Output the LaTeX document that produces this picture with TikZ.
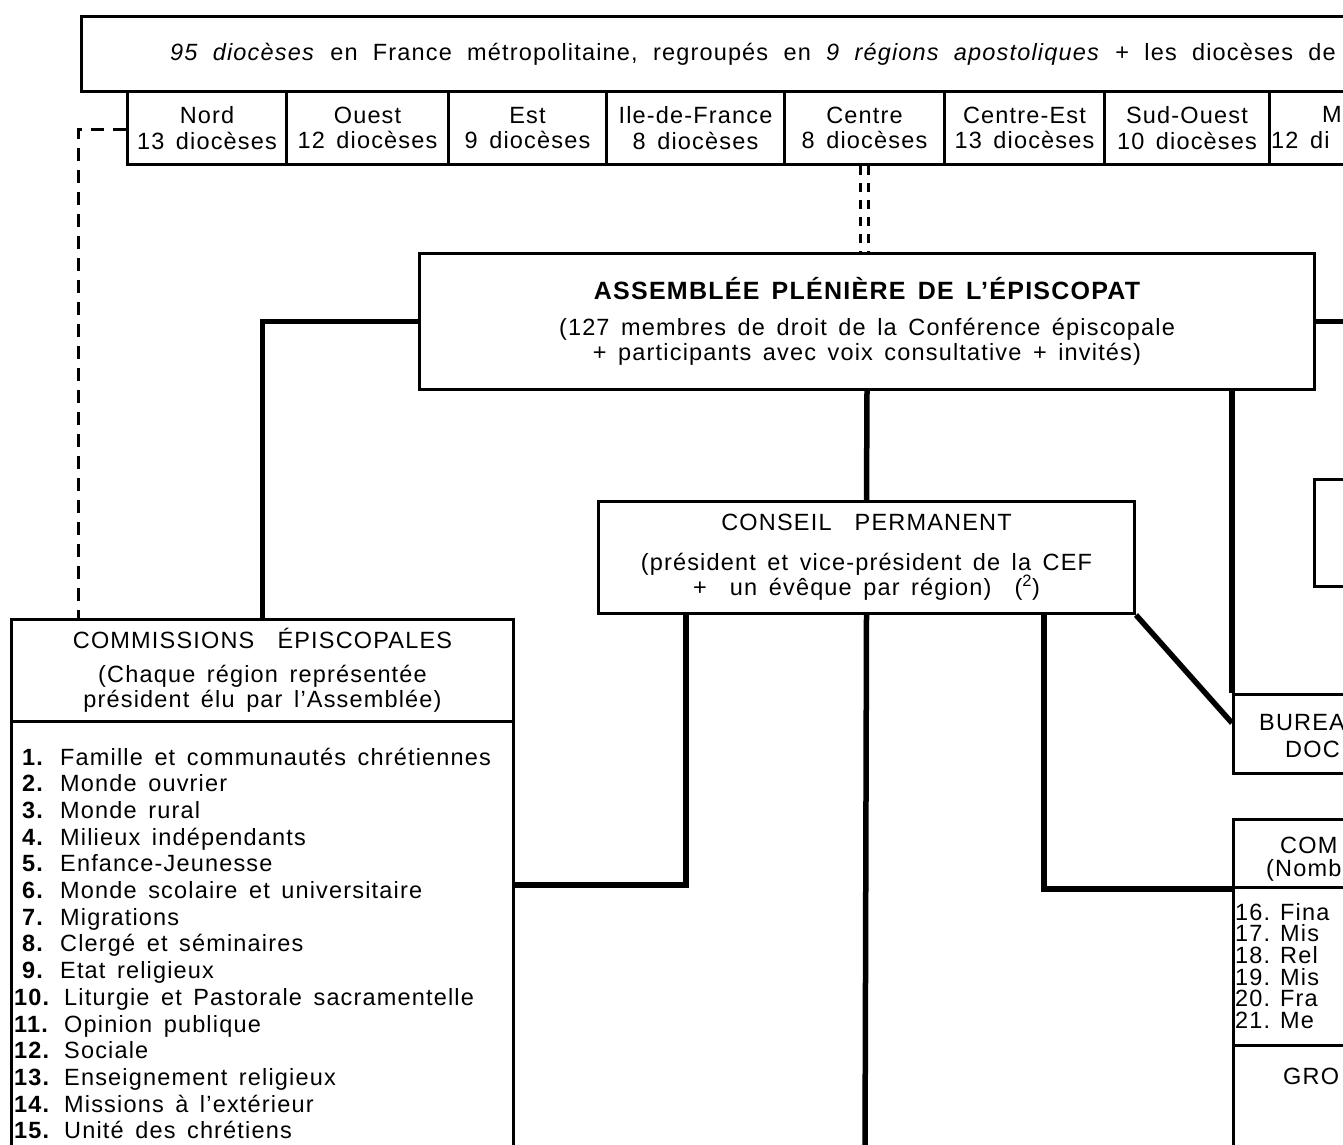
\documentclass[tikz,border=0pt]{standalone}
\usepackage{fontspec}
\setmainfont{Liberation Sans}[LetterSpace=5,WordSpace=1.5]
\usetikzlibrary{calc}

\tikzset{
  box/.style={draw,line width=3pt,rectangle,inner sep=0pt,anchor=north west,align=center},
  link/.style={line width=5.5pt},
  dashline/.style={line width=3pt,dash pattern=on 13pt off 9pt},
  lbl/.style={anchor=base west,inner sep=0pt},
}

\begin{document}
\begin{tikzpicture}[x=1pt,y=-1pt,font=\fontsize{23.5}{25.5}\selectfont]
	\useasboundingbox (0,0) rectangle (1343,1145);
	\clip (0,0) rectangle (1343,1145);
	% dioceses and regions
	\node[box,minimum width=1400pt,minimum height=75pt] (dioc) at (80,15) {};
	\node[lbl] (diocTxt) at (170,61) {\spaceskip=15.3pt\relax\textit{95 diocèses} en France métropolitaine, regroupés en \textit{9 régions apostoliques} + les diocèses de};
	\foreach \x/\w/\name/\n [count=\i] in {126/159/Nord/13, 285/162/Ouest/12, 447/158/Est/9, 605/178/Ile-de-France/8, 783/160/Centre/8, 943/160/Centre-Est/13, 1103/165/Sud-Ouest/10}
		\node[box,minimum width=\w pt,minimum height=73pt] (r\i) at (\x,90) {\name\\\n~diocèses};
	\node[box,minimum width=200pt,minimum height=73pt] (r8) at (1268,90) {};
	\node[lbl] (r8a) at (1322,123) {M};
	\node[lbl] (r8b) at (1271,148) {12 di};
	% assemblee and conseil
	\node[box,minimum width=895pt,minimum height=136pt] (apl) at (418,252) {{\fontsize{25}{28}\selectfont\bfseries ASSEMBLÉE PLÉNIÈRE DE L’ÉPISCOPAT}\\[10pt](127 membres de droit de la Conférence épiscopale\\+ participants avec voix consultative + invités)};
	\node[box,minimum width=536pt,minimum height=112pt] (cp) at (597,500) {CONSEIL~~PERMANENT\\[14pt](président et vice-président de la CEF\\+~~un évêque par région)~~(\textsuperscript{2})};
	\node[box,minimum width=200pt,minimum height=107pt] (sec) at (1313,478) {};
	\node[box,minimum width=200pt,minimum height=79pt] (bur) at (1232,693) {};
	\node[lbl] (burA) at (1259,730) {BUREA};
	\node[lbl] (burB) at (1285,757) {DOC};
	% commissions episcopales
	\node[box,minimum width=502pt,minimum height=102pt] (ceh) at (10,618) {COMMISSIONS~~ÉPISCOPALES\\[8pt](Chaque région représentée\\président élu par l’Assemblée)};
	\node[box,minimum width=502pt,minimum height=500pt] (cel) at (10,720) {};
	\foreach \t [count=\i] in {Famille et communautés chrétiennes, Monde ouvrier, Monde rural, Milieux indépendants, Enfance-Jeunesse, Monde scolaire et universitaire, Migrations, Clergé et séminaires, Etat religieux, Liturgie et Pastorale sacramentelle, Opinion publique, Sociale, Enseignement religieux, Missions à l’extérieur, Unité des chrétiens}{
		\pgfmathsetmacro\yy{765+(\i-1)*26.7}
		\ifnum\i<10 \def\xn{22}\def\xt{60}\else\def\xn{14}\def\xt{64}\fi
		\node[lbl] (n\i) at (\xn,\yy) {\textbf{\i.}};
		\node[lbl] (c\i) at (\xt,\yy) {\t};
	}
	% commissions (right)
	\node[box,minimum width=200pt,minimum height=68pt] (cmh) at (1232,818) {};
	\node[lbl] (cmhA) at (1280,853) {COM};
	\node[lbl] (cmhB) at (1266,876) {(Nomb};
	\node[box,minimum width=200pt,minimum height=158pt] (cml) at (1232,886) {};
	\foreach \t [count=\i from 16] in {Fina, Mis, Rel, Mis, Fra, Me}{
		\pgfmathsetmacro\yy{920+(\i-16)*21.7}
		\node[lbl] (n\i) at (1235,\yy) {\i.};
		\node[lbl] (c\i) at (1280,\yy) {\t};
	}
	\node[box,minimum width=200pt,minimum height=200pt] (grp) at (1232,1044) {};
	\node[lbl] (grpA) at (1283,1084) {GRO};
	% connectors
	\coordinate (dl) at (78,130);
	\draw[dashline] (r1.west |- dl) -- (dl) -- (dl |- ceh.north);
	\draw[dashline,double,double distance=4.5pt,line width=2.8pt,dash pattern=on 9pt off 8pt] (r5.south) -- (r5.south |- apl.north);
	\draw[link] (apl.west) -| (ceh.north);
	\draw[link] (apl.east) -- ++(40,0);
	\draw[link] (apl.south) -- (cp.north);
	\draw[link] (apl.south -| bur.west) -- (bur.north west);
	\coordinate (bot) at (865,1160);
	\draw[link] (cp.south) -- (bot);
	\coordinate (jl) at (686,885);
	\draw[link] (jl |- cp.south) -- (jl) -- (jl -| cel.east);
	\coordinate (jr) at (1044,885);
	\draw[link] (jr |- cp.south) |- (cmh.south west);
	\coordinate (bj) at (1232,723);
	\draw[link] (cp.south east) -- (bj);
	\draw[dashline] ($(cp.east)+(0,-3)$) -- ($(cp.east)+(0,-3)$ -| sec.west);
\end{tikzpicture}
\end{document}
